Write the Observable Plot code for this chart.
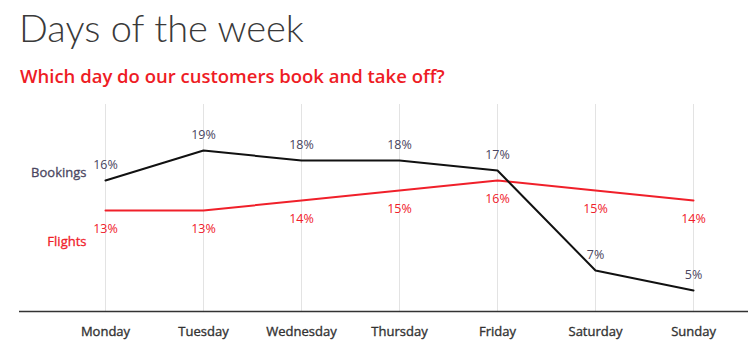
<!DOCTYPE html>
<html>
<head>
<meta charset="utf-8">
<script src="https://cdn.jsdelivr.net/npm/d3@7"></script>
<script src="https://cdn.jsdelivr.net/npm/@observablehq/plot@0.6"></script>
<style>
  html, body { margin: 0; padding: 0; background: #fff; width: 750px; height: 359px; overflow: hidden; }
  #wrap { position: relative; width: 750px; height: 359px; }
  #title { position: absolute; left: 19px; top: 4px; font-family: "Lato", sans-serif; font-weight: 300; font-size: 38px; line-height: 46px; color: #3a3a3a; letter-spacing: 0px; }
  #subtitle { position: absolute; left: 20px; top: 63px; font-family: "Open Sans", sans-serif; font-weight: 600; font-size: 18.5px; line-height: 26px; color: #ee1c25; }
  #chart { position: absolute; left: 0; top: 95px; }
  #chart g[aria-label="x-axis tick label"] text { stroke: #333; stroke-width: 0.35px; }
  #chart g.series-name text { stroke-width: 0.3px; }
</style>
</head>
<body>
<div id="wrap">
  <div id="title">Days of the week</div>
  <div id="subtitle">Which day do our customers book and take off?</div>
  <div id="chart"></div>
</div>
<script>
const days = ["Monday", "Tuesday", "Wednesday", "Thursday", "Friday", "Saturday", "Sunday"];
const bookings = [16, 19, 18, 18, 17, 7, 5];
const flights = [13, 13, 14, 15, 16, 15, 14];
const seriesNames = ["Bookings", "Flights"];

const bookData = days.map((d, i) => ({day: d, value: bookings[i]}));
const flightData = days.map((d, i) => ({day: d, value: flights[i]}));

const purple = "#4a4560";
const red = "#f0202a";

const chart = Plot.plot({
  width: 750,
  height: 264,
  marginTop: 9,
  marginBottom: 48,
  marginLeft: 19,
  marginRight: 2,
  style: { fontFamily: "'Open Sans', sans-serif", fontSize: "12px", background: "transparent" },
  x: { type: "point", domain: days, range: [105, 693], padding: 0 },
  y: { domain: [2.9, 23.6], axis: null },
  marks: [
    Plot.ruleX(days, { x: d => d, stroke: "#e3e3e3", strokeWidth: 1 }),
    Plot.axisX({ tickSize: 0, tickPadding: 15, fontSize: 13, fill: "#333", label: null }),
    Plot.ruleY([2.9], { stroke: "#333", strokeWidth: 1.5 }),
    Plot.line(flightData, { x: "day", y: "value", stroke: red, strokeWidth: 2 }),
    Plot.line(bookData, { x: "day", y: "value", stroke: "#111", strokeWidth: 2 }),
    Plot.text(bookData, { x: "day", y: "value", text: d => d.value + "%", dy: -16, fill: purple, fontSize: 12.5 }),
    Plot.text(flightData, { x: "day", y: "value", text: d => d.value + "%", dy: 18, fill: red, fontSize: 12.5 }),
    Plot.text([seriesNames[0]], { x: () => days[0], y: () => bookings[0], text: d => d, dx: -19, dy: -8, textAnchor: "end", fill: purple, stroke: purple, strokeWidth: 0.3, fontSize: 13 }),
    Plot.text([seriesNames[1]], { x: () => days[0], y: () => flights[0], text: d => d, dx: -19, dy: 31, textAnchor: "end", fill: red, stroke: red, strokeWidth: 0.3, fontSize: 13 })
  ]
});
document.getElementById("chart").appendChild(chart);
</script>
</body>
</html>
